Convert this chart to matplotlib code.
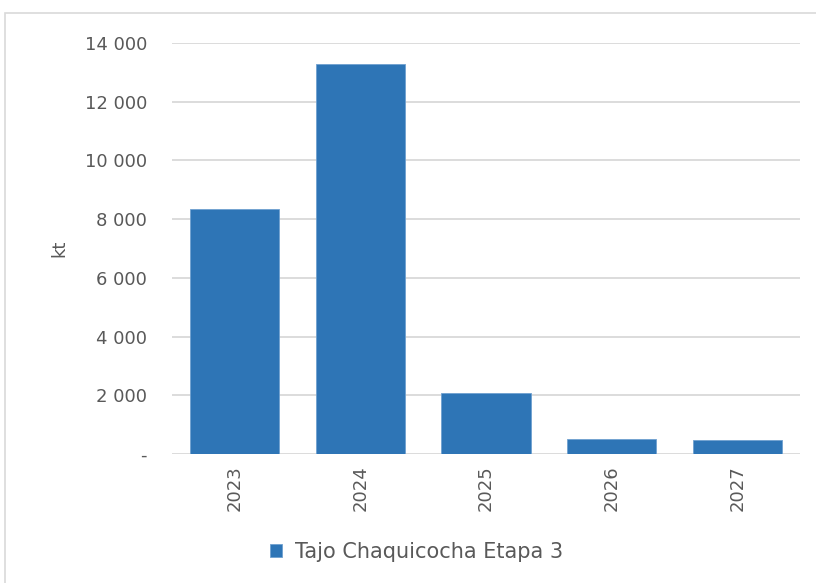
import matplotlib.pyplot as plt
from matplotlib.patches import Rectangle
from matplotlib.ticker import FuncFormatter

plt.rcParams['font.family'] = ['DejaVu Sans']

# datos
years = ['2023', '2024', '2025', '2026', '2027']
values = [8360, 13300, 2080, 500, 465]
series_name = 'Tajo Chaquicocha Etapa 3'

bar_color = '#2E75B6'
text_color = '#595959'
grid_color = '#D9D9D9'

fig = plt.figure(figsize=(8.16, 5.83), dpi=100)
ax = fig.add_axes([0.2108, 0.2213, 0.7696, 0.7049])

# marco del gráfico
fig.patches.append(Rectangle((5 / 816, -0.1), 1.2, 1 - 13 / 583 + 0.1,
                             transform=fig.transFigure, fill=False,
                             edgecolor=grid_color, linewidth=1.2))

x = range(len(years))
ax.bar(x, values, width=0.71, color=bar_color, edgecolor='#6FA0D0',
       linewidth=0.6, label=series_name, zorder=3)

ax.set_xlim(-0.5, len(years) - 0.5)
ax.set_ylim(0, 14000)
ax.set_yticks(range(0, 14001, 2000))


def fmt(v, pos):
    if v == 0:
        return '-'
    return f'{int(v):,}'.replace(',', ' ')


ax.yaxis.set_major_formatter(FuncFormatter(fmt))
ax.set_xticks(list(x))
ax.set_xticklabels(years, rotation=90)

ax.grid(axis='y', color=grid_color, linewidth=1.3, zorder=0)
for s in ax.spines.values():
    s.set_visible(False)
ax.tick_params(axis='both', length=0, colors=text_color, labelsize=13)
ax.tick_params(axis='y', pad=18)
ax.tick_params(axis='x', pad=8)
ax.set_ylabel('kt', color=text_color, fontsize=13, labelpad=12)

fig.legend(loc='center', bbox_to_anchor=(0.51, 1 - 552 / 583), frameon=False,
           fontsize=15, labelcolor=text_color, handlelength=0.6,
           handleheight=0.6, handletextpad=0.6)

fig.savefig('out.png', dpi=100)
